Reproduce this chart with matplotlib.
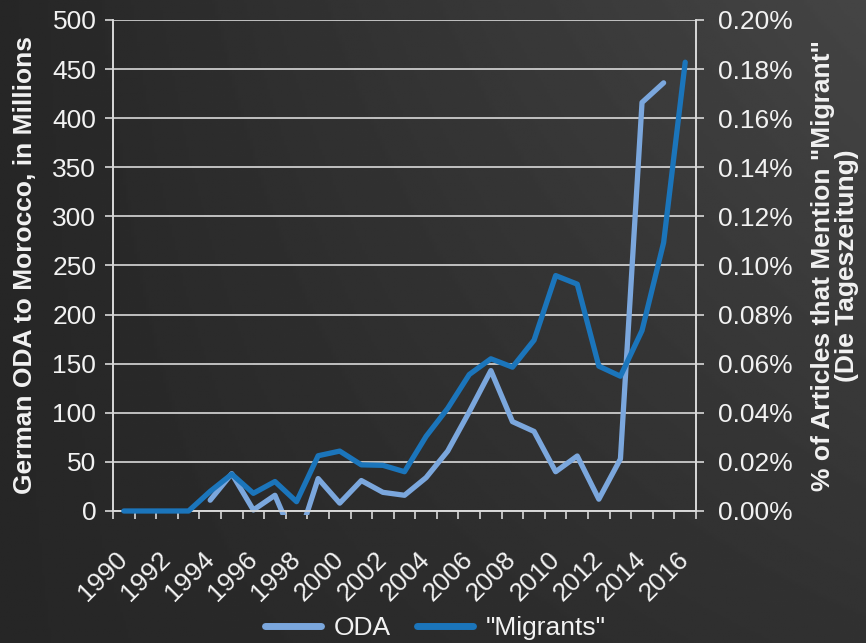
import matplotlib.pyplot as plt
import matplotlib.transforms as mtransforms
import numpy as np
from matplotlib.lines import Line2D
from matplotlib.patches import Rectangle
from matplotlib.ticker import FuncFormatter, MultipleLocator

plt.rcParams["font.family"] = ["Liberation Sans", "DejaVu Sans"]

years = list(range(1990, 2017))
# German ODA to Morocco, millions (1998 is negative and runs off the axis)
oda = [np.nan, np.nan, np.nan, np.nan,
       11, 38, 1, 16, -35, 33, 8, 31, 19, 16, 34, 61, 101, 143,
       91, 81, 40, 56, 12, 53, 416, 436, np.nan]
# share of taz articles mentioning "Migrant", percent
migrants = [0.0, 0.0, 0.0, 0.0, 0.008, 0.015, 0.0072, 0.012, 0.0038, 0.0225,
            0.0244, 0.0188, 0.0186, 0.016, 0.0304, 0.0418, 0.0556, 0.062,
            0.0586, 0.0696, 0.0959, 0.0924, 0.059, 0.0549, 0.0735, 0.1093,
            0.1828]

ODA_COLOR = "#7ba7dd"
MIG_COLOR = "#1b75bb"
FG = "#f2f2f2"
GRID = "#d9d9d9"
FS = 19

fig = plt.figure(figsize=(8.66, 6.43), dpi=100)

# dark gradient background
bg = fig.add_axes([0, 0, 1, 1], zorder=-10)
gx, gy = np.meshgrid(np.linspace(0, 1, 300), np.linspace(0, 1, 300))
shade = 0.15 + 0.12 * gx * (0.35 + 0.65 * (1 - gy))
bg.imshow(shade, cmap="gray", vmin=0, vmax=1, aspect="auto",
          extent=[0, 1, 0, 1], origin="upper")
bg.axis("off")

ax = fig.add_axes([0.1305, 0.2053, 0.6732, 0.7636])
ax.patch.set_alpha(0)
x = np.arange(len(years))

ax.set_xlim(-0.5, len(years) - 0.5)
ax.set_ylim(0, 500)
ax.yaxis.set_major_locator(MultipleLocator(50))
ax.grid(axis="y", color=GRID, lw=1.2)
ax.set_axisbelow(True)

clip = Rectangle((0, -0.008), 1, 1.1, transform=ax.transAxes, visible=False)
l_oda, = ax.plot(x, oda, color=ODA_COLOR, lw=3.8,
                 solid_capstyle="round", solid_joinstyle="round", zorder=3)
l_oda.set_clip_path(clip)

ax2 = ax.twinx()
ax2.set_ylim(0, 0.2)
ax2.yaxis.set_major_locator(MultipleLocator(0.02))
ax2.yaxis.set_major_formatter(FuncFormatter(lambda v, p: f"{v:.2f}%"))
ax2.plot(x, migrants, color=MIG_COLOR, lw=3.8, clip_on=False,
         solid_capstyle="round", solid_joinstyle="round", zorder=3)

# x axis: ticks on category boundaries, labels every other year
ax.set_xticks(np.arange(len(years) + 1) - 0.5, minor=True)
ax.set_xticks(x[::2])
ax.set_xticklabels([str(y) for y in years[::2]], rotation=45, ha="right",
                   va="center", rotation_mode="anchor")
shift = mtransforms.ScaledTranslation(4 / 100, 0, fig.dpi_scale_trans)
for lbl in ax.get_xticklabels():
    lbl.set_transform(lbl.get_transform() + shift)
ax.tick_params(axis="x", which="major", length=0, pad=32,
               labelsize=FS, labelcolor=FG)
ax.tick_params(axis="x", which="minor", length=6, width=1.2,
               color=GRID, direction="out")
ax.tick_params(axis="y", length=6, width=1.2, color=GRID,
               labelsize=FS, labelcolor=FG, pad=6)
ax2.tick_params(axis="y", length=6, width=1.2, color=GRID,
                labelsize=FS, labelcolor=FG, pad=10)

for a in (ax, ax2):
    a.spines["top"].set_visible(False)
    for s in ("left", "right", "bottom"):
        a.spines[s].set_color(GRID)
        a.spines[s].set_linewidth(1.2)

ax.set_ylabel("German ODA to Morocco, in Millions", fontsize=FS,
              fontweight="bold", color=FG)
ax.yaxis.set_label_coords(-0.13, 0.5)
ax2.set_ylabel('% of Articles that Mention "Migrant"\n(Die Tageszeitung)',
               fontsize=FS, fontweight="bold", color=FG, linespacing=1.0)
ax2.yaxis.set_label_coords(1.197, 0.5)

handles = [
    Line2D([], [], color=ODA_COLOR, lw=5, solid_capstyle="round"),
    Line2D([], [], color=MIG_COLOR, lw=5, solid_capstyle="round"),
]
fig.legend(handles, ["ODA", '"Migrants"'], loc="center",
           bbox_to_anchor=(0.503, 1 - 628 / 643), ncol=2, frameon=False,
           fontsize=FS, labelcolor=FG, handlelength=2.1,
           handletextpad=0.5, columnspacing=1.0)

fig.savefig("out.png", dpi=100)
